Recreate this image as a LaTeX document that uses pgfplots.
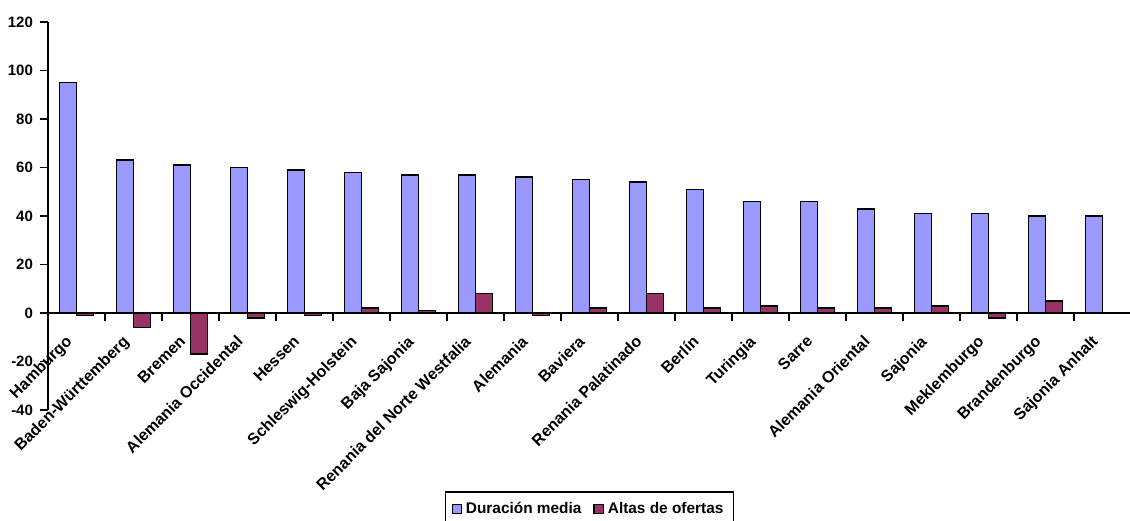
\documentclass[border=0pt]{standalone}
\usepackage{fontspec}
\setmainfont{Liberation Sans}
\usepackage{pgfplots}
\pgfplotsset{compat=1.18}

\definecolor{durblue}{HTML}{9999FF}
\definecolor{altred}{HTML}{993366}

\begin{document}
\begin{tikzpicture}
\begin{axis}[
    name=ax,
    scale only axis,
    width=541.5pt, height=194pt,
    xmin=-0.5, xmax=18.5,
    ymin=-40, ymax=120,
    ytick={-40,-20,...,120},
    axis y line*=left,
    axis x line*=middle,
    axis line style={line width=0.8pt, black},
    xtick={0,...,18},
    major x tick style={draw=none},
    minor xtick={-0.5,0.5,...,18.5},
    minor x tick style={line width=0.8pt, black},
    minor tick length=4pt,
    major y tick style={line width=0.8pt, black},
    major tick length=4pt,
    tick align=outside,
    xticklabels={Hamburgo, Baden-Württemberg, Bremen, Alemania Occidental, Hessen,
      Schleswig-Holstein, Baja Sajonia, Renania del Norte Westfalia, Alemania,
      Baviera, Renania Palatinado, Berlín, Turingia, Sarre, Alemania Oriental,
      Sajonia, Meklemburgo, Brandenburgo, Sajonia Anhalt},
    ticklabel style={font=\bfseries\fontsize{7.5}{9}\selectfont},
    x tick label style={xshift=-6pt, yshift=-6.5pt, rotate=45, anchor=north east, inner sep=0pt,
      font=\bfseries\fontsize{8}{9}\selectfont},
    /pgf/number format/assume math mode=true,
    ybar, bar width=8.5pt,
    bar shift auto=false,
    clip=false,
    legend columns=2,
    legend style={at={(0.5,-40.5pt)}, anchor=north, draw=black, line width=0.8pt,
      font=\bfseries\fontsize{7.7}{9}\selectfont, inner sep=3pt,
      /tikz/every even column/.append style={column sep=4pt}},
    legend image code/.code={\draw[#1, line width=0.6pt] (0pt,-2.3pt) rectangle (4.6pt,2.3pt);},
]
\addplot[fill=durblue, draw=black, line width=0.8pt, bar shift=-4.25pt] coordinates {
  (0,95) (1,63) (2,61) (3,60) (4,59) (5,58) (6,57) (7,57) (8,56) (9,55)
  (10,54) (11,51) (12,46) (13,46) (14,43) (15,41) (16,41) (17,40) (18,40)};
\addlegendentry{Duración media}
\addplot[fill=altred, draw=black, line width=0.8pt, bar shift=4.25pt] coordinates {
  (0,-1) (1,-6) (2,-17) (3,-2) (4,-1) (5,2) (6,1) (7,8) (8,-1) (9,2)
  (10,8) (11,2) (12,3) (13,2) (14,2) (15,3) (16,-2) (17,5) (18,0)};
\addlegendentry{Altas de ofertas}
\end{axis}
\pgfresetboundingbox
\path ([xshift=-24pt, yshift=-55pt]ax.south west) rectangle ([xshift=-0.5pt, yshift=11pt]ax.north east);
\end{tikzpicture}
\end{document}
